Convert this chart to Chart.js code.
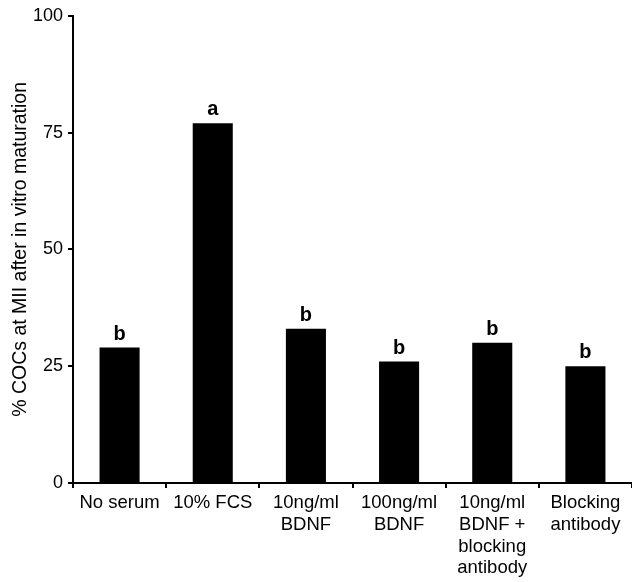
<!DOCTYPE html>
<html>
<head>
<meta charset="utf-8">
<script src="https://cdn.jsdelivr.net/npm/chart.js@4"></script>
<style>
  body { margin: 0; background: #fff; }
  #wrap { width: 632px; height: 582px; position: relative; }
</style>
</head>
<body>
<div id="wrap"><canvas id="grafico"></canvas></div>
<script>
// dados
const categorias = [
  "No serum",
  "10% FCS",
  ["10ng/ml", "BDNF"],
  ["100ng/ml", "BDNF"],
  ["10ng/ml", "BDNF +", "blocking", "antibody"],
  ["Blocking", "antibody"]
];
const valores = [29, 77, 33, 26, 30, 25];
const letras = ["b", "a", "b", "b", "b", "b"];
const ticksY = [0, 25, 50, 75, 100];

const fonte = "'Liberation Sans', Arial, sans-serif";

// escreve as letras de significancia acima das barras
const letrasPlugin = {
  id: 'letras',
  afterDatasetsDraw(chart) {
    const ctx = chart.ctx;
    const meta = chart.getDatasetMeta(0);
    ctx.save();
    ctx.fillStyle = '#000';
    ctx.font = "bold 20px " + fonte;
    ctx.textAlign = 'center';
    ctx.textBaseline = 'alphabetic';
    meta.data.forEach(function (bar, i) {
      ctx.fillText(letras[i], bar.x, bar.y - 8);
    });
    ctx.restore();
  }
};

new Chart(document.getElementById('grafico'), {
  type: 'bar',
  data: {
    labels: categorias,
    datasets: [{
      data: valores,
      backgroundColor: '#000',
      borderWidth: 0,
      barPercentage: 0.43,
      categoryPercentage: 1
    }]
  },
  options: {
    responsive: true,
    maintainAspectRatio: false,
    animation: false,
    layout: { padding: { top: 15, right: 0, left: 0, bottom: 0 } },
    plugins: { legend: { display: false }, tooltip: { enabled: false } },
    scales: {
      x: {
        afterFit(scale) { scale.height = 99; },
        grid: { drawOnChartArea: false, drawTicks: true, tickLength: 5, color: '#000', lineWidth: 2, offset: true },
        border: { display: true, color: '#000', width: 2 },
        ticks: {
          color: '#000',
          padding: 4,
          maxRotation: 0,
          autoSkip: false,
          font: { family: fonte, size: 18.5, lineHeight: 1.18 }
        }
      },
      y: {
        min: 0,
        max: 100,
        afterFit(scale) { scale.width = 73; },
        afterBuildTicks(scale) { scale.ticks = ticksY.map(v => ({ value: v })); },
        grid: { drawOnChartArea: false, drawTicks: true, tickLength: 5, color: '#000', lineWidth: 2 },
        border: { display: true, color: '#000', width: 2 },
        ticks: {
          color: '#000',
          padding: 5,
          font: { family: fonte, size: 18 }
        },
        title: {
          display: true,
          text: "% COCs at MII after in vitro maturation",
          color: '#000',
          padding: { top: 9, bottom: 0 },
          font: { family: fonte, size: 19.5 }
        }
      }
    }
  },
  plugins: [letrasPlugin]
});
</script>
</body>
</html>
